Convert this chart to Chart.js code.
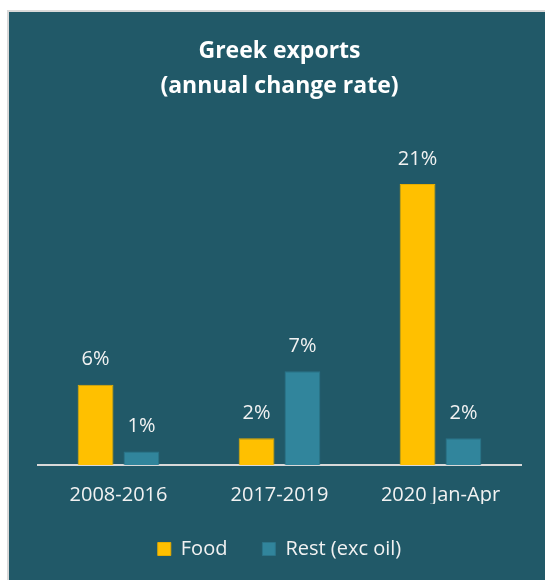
<!DOCTYPE html>
<html>
<head>
<meta charset="utf-8">
<script src="https://cdn.jsdelivr.net/npm/chart.js@4.4.0/dist/chart.umd.min.js"></script>
<style>
  html, body { margin: 0; padding: 0; background: #ffffff; }
  #panel {
    position: absolute; left: 7px; top: 10px;
    width: 536px; height: 568px;
    background: #215968;
    border-left: 2px solid #d9d9d9;
    border-top: 2px solid #d9d9d9;
  }
</style>
</head>
<body>
<div id="panel"><canvas id="exports-chart" width="536" height="568"></canvas></div>
<script>
// Greek exports, annual change rate (%)
const periods = ["2008-2016", "2017-2019", "2020 Jan-Apr"];
const foodValues = [6, 2, 21];
const restValues = [1, 7, 2];

const textColor = '#f2f2f2';
const fontFamily = "'Open Sans', 'Noto Sans', sans-serif";

// writes "n%" above every bar
const valueLabels = {
  id: 'valueLabels',
  afterDatasetsDraw(chart) {
    const ctx = chart.ctx;
    ctx.save();
    ctx.fillStyle = textColor;
    ctx.font = "20px " + fontFamily;
    ctx.textAlign = 'center';
    ctx.textBaseline = 'middle';
    chart.data.datasets.forEach((ds, i) => {
      chart.getDatasetMeta(i).data.forEach((bar, j) => {
        ctx.fillText(ds.data[j] + '%', bar.x, bar.y - 25);
      });
    });
    ctx.restore();
  }
};

new Chart(document.getElementById("exports-chart"), {
  type: 'bar',
  data: {
    labels: periods,
    datasets: [
      {
        label: "Food",
        data: foodValues,
        backgroundColor: '#ffc000',
        borderColor: '#e6ad00',
        borderWidth: 1
      },
      {
        label: "Rest (exc oil)",
        data: restValues,
        backgroundColor: '#31859c',
        borderColor: '#2b7489',
        borderWidth: 1
      }
    ]
  },
  options: {
    responsive: false,
    animation: false,
    categoryPercentage: 0.57,
    barPercentage: 0.78,
    layout: {
      padding: { top: 22, left: 29, right: 24, bottom: 11 }
    },
    plugins: {
      title: {
        display: true,
        text: ["Greek exports", "(annual change rate)"],
        color: '#ffffff',
        font: { family: fontFamily, size: 23, weight: 'bold', lineHeight: 1.52 },
        padding: { top: 0, bottom: 40 }
      },
      legend: {
        display: true,
        position: 'bottom',
        labels: {
          color: textColor,
          font: { family: fontFamily, size: 20 },
          boxWidth: 13,
          boxHeight: 13,
          padding: 35
        }
      },
      tooltip: { enabled: false }
    },
    scales: {
      x: {
        grid: { display: false },
        border: { display: true, color: '#d9d9d9', width: 2 },
        ticks: {
          color: textColor,
          font: { family: fontFamily, size: 20 },
          padding: 10
        },
        // pull the legend a little closer to the axis labels
        afterFit: (scale) => { scale.height -= 13; }
      },
      y: {
        display: false,
        min: 0,
        max: 24
      }
    }
  },
  plugins: [valueLabels]
});
</script>
</body>
</html>
